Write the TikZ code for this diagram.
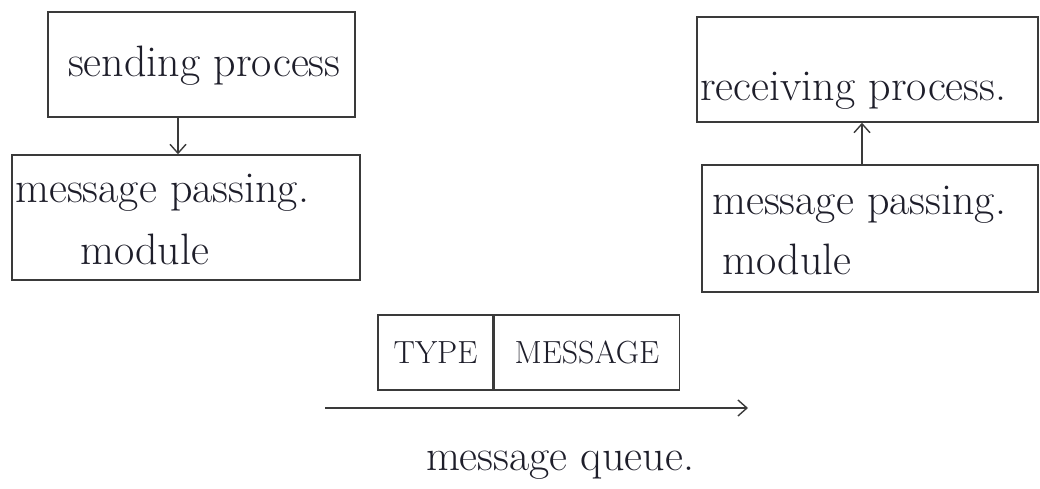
\documentclass[tikz,border=0pt]{standalone}
\usetikzlibrary{arrows.meta}
\definecolor{ink}{HTML}{1E1E2A}
\definecolor{pencil}{HTML}{3A3A3A}
\begin{document}
\begin{tikzpicture}[x=1pt,y=-1pt,
  box/.style={draw=pencil,line width=1.4pt,rectangle,inner sep=0pt},
  txt/.style={text=ink,font=\fontsize{44}{50}\selectfont,inner sep=0pt,anchor=base west},
  fieldtxt/.style={text=ink,font=\fontsize{32}{36}\selectfont,inner sep=0pt},
  conn/.style={draw=pencil,line width=1.4pt,-{Straight Barb[length=9pt,width=16pt,line width=1.4pt]}}]
\useasboundingbox (0,0) rectangle (1040,488);

% sender side
\node[box,minimum width=307pt,minimum height=105pt] (send) at (201.5,64.5) {};
\node[txt] (sendt) at (68,76) {sending process};
\node[box,minimum width=348pt,minimum height=125pt] (smpm) at (186,217.5) {};
\node[txt] (smpm1) at (15,202) {message passing.};
\node[txt] (smpm2) at (80,264) {module};

% receiver side
\node[box,minimum width=341pt,minimum height=105pt] (recv) at (867.5,69.5) {};
\node[txt] (recvt) at (700,100) {receiving process.};
\node[box,minimum width=336pt,minimum height=127pt] (rmpm) at (870,228.5) {};
\node[txt] (rmpm1) at (712,214) {message passing.};
\node[txt] (rmpm2) at (722,274) {module};

% message layout
\node[box,minimum width=115pt,minimum height=75pt] (type) at (435.5,352.5) {};
\node[box,minimum width=185pt,minimum height=75pt,anchor=west] (msg) at (type.east) {};
\node[fieldtxt] (typet) at (type.center) {TYPE};
\node[fieldtxt] (msgt) at (msg.center) {MESSAGE};

% queue
\coordinate (qa) at (325,408);
\coordinate (qb) at (748,408);
\draw[conn] (qa) -- (qb);
\node[txt,anchor=base] (queue) at (560,470) {message queue.};

% connectors between layers
\draw[conn] (send.south -| 178,0) -- (smpm.north -| 178,0);
\draw[conn] (rmpm.north -| 862,0) -- (recv.south -| 862,0);
\end{tikzpicture}
\end{document}
